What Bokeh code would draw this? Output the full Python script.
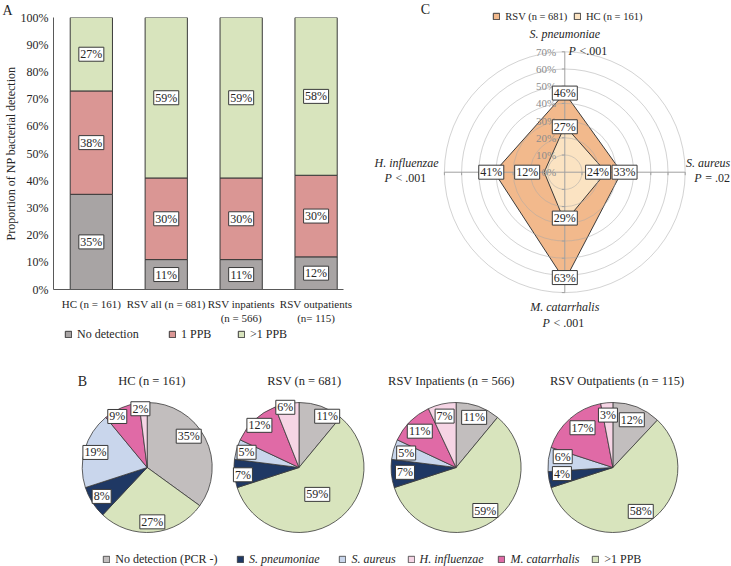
import math
from bokeh.plotting import figure
from bokeh.models import (Range1d, FixedTicker, PrintfTickFormatter, Legend,
                          LegendItem, ColumnDataSource)
from bokeh.layouts import row, column
from bokeh.core.properties import value
from bokeh.embed import file_html
from bokeh.resources import INLINE

# ---------------- data ----------------
# Panel A: stacked bars (percent of children)
bar_groups = ["HC (n = 161)", "RSV all (n = 681)", "RSV inpatients\n(n = 566)",
              "RSV outpatients\n(n= 115)"]
bar_no_detection = [35, 11, 11, 12]
bar_one_ppb = [38, 30, 30, 30]
bar_multi_ppb = [27, 59, 59, 58]
bar_series_names = ["No detection", "1 PPB", ">1 PPB"]
bar_y_ticks = [0, 10, 20, 30, 40, 50, 60, 70, 80, 90, 100]

# Panel C: radar (clockwise from top)
radar_axes = ["S. pneumoniae", "S. aureus", "M. catarrhalis", "H. influenzae"]
radar_pvalues = ["<.001", "= .02", "< .001", "< .001"]
radar_rsv = [46, 33, 63, 41]
radar_hc = [27, 24, 29, 12]
radar_series_names = ["RSV (n = 681)", "HC (n = 161)"]
radar_ticks = [0, 10, 20, 30, 40, 50, 60, 70]

# Panel B: pies (slices clockwise from 12 o'clock)
pie_titles = ["HC (n = 161)", "RSV (n = 681)", "RSV Inpatients (n = 566)",
              "RSV Outpatients (n = 115)"]
pie_categories = ["No detection (PCR -)", ">1 PPB", "S. pneumoniae", "S. aureus",
                  "M. catarrhalis", "H. influenzae"]
pie_hc = [35, 27, 8, 19, 9, 2]
pie_rsv = [11, 59, 7, 5, 12, 6]
pie_inpatients = [11, 59, 7, 5, 11, 7]
pie_outpatients = [12, 58, 4, 6, 17, 3]
pie_legend_order = ["No detection (PCR -)", "S. pneumoniae", "S. aureus",
                    "H. influenzae", "M. catarrhalis", ">1 PPB"]
species = {"S. pneumoniae", "S. aureus", "H. influenzae", "M. catarrhalis"}

# ---------------- style ----------------
FONT = "Liberation Serif"
TXT = "#262626"
EDGE = "#3a3a3a"
bar_colors = ["#a8a4a4", "#da9694", "#d8e4bd"]
pie_colors = {"No detection (PCR -)": "#c2bebe", ">1 PPB": "#d8e4bd",
              "S. pneumoniae": "#1f3864", "S. aureus": "#c9d6ec",
              "M. catarrhalis": "#e06aa6", "H. influenzae": "#f6d5e5"}
radar_colors = ["#f2b98c", "#fbe3c2"]


def clean(p):
    p.outline_line_color = None
    p.grid.visible = False
    p.background_fill_color = "white"
    p.border_fill_color = "white"


def boxed_labels(p, xs, ys, texts, size="12px"):
    src = ColumnDataSource(dict(x=xs, y=ys, text=texts,
                                w=[6 * len(t) + 7 for t in texts]))
    p.rect(x="x", y="y", width="w", height=14, width_units="screen",
           height_units="screen", fill_color="white", line_color=EDGE,
           line_width=1, source=src)
    p.text(x="x", y="y", text="text", text_align="center", text_baseline="middle",
           text_font=value(FONT), text_font_size=value(size), text_color=TXT,
           source=src)


def legend_kw(size="12px", italic=False):
    return dict(orientation="horizontal", padding=0, margin=0, spacing=0,
                glyph_width=8, glyph_height=8, label_standoff=5, label_height=8,
                label_width=10, background_fill_alpha=0, border_line_color=None,
                label_text_font=FONT, label_text_font_size=size,
                label_text_font_style="italic" if italic else "normal",
                label_text_color=TXT)


def add_legend(p, label, renderer, x, y, italic=False, size="12px", index=None):
    item = LegendItem(label=label, renderers=[renderer], index=index)
    p.add_layout(Legend(items=[item], location=(x, y), **legend_kw(size, italic)))


def txt(p, x, y, s, align="center", italic=False, size="12px", color=TXT,
        baseline="middle", x_offset=0):
    p.text(x=[x], y=[y], text=[s], text_align=align, text_baseline=baseline,
           text_font=value(FONT), text_font_size=value(size),
           text_font_style="italic" if italic else "normal", text_color=color,
           x_offset=x_offset)


def strip(w, h):
    p = figure(width=w, height=h, x_range=Range1d(0, 1), y_range=Range1d(0, 1),
               min_border=0, x_axis_location=None, y_axis_location=None,
               output_backend="svg", toolbar_location=None)
    clean(p)
    return p


# ---------------- Panel A ----------------
pA = figure(width=372, height=326, x_range=Range1d(-0.505, 3.366),
            y_range=Range1d(0, 100), output_backend="svg", toolbar_location=None,
            min_border_left=48, min_border_right=29, min_border_top=17,
            min_border_bottom=37)
clean(pA)

n = len(bar_groups)
xs = list(range(n))
bottoms = [0] * n
lx, ly, lt = [], [], []
for vals, color in zip([bar_no_detection, bar_one_ppb, bar_multi_ppb], bar_colors):
    tops = [b + v for b, v in zip(bottoms, vals)]
    pA.vbar(x=xs, bottom=bottoms, top=tops, width=0.564, fill_color=color,
            line_color=EDGE, line_width=1)
    for i in range(n):
        lx.append(xs[i])
        ly.append((bottoms[i] + tops[i]) / 2)
        lt.append(f"{vals[i]}%")
    bottoms = tops
boxed_labels(pA, lx, ly, lt)

for ax in (pA.yaxis[0], pA.xaxis[0]):
    ax.major_tick_out = 0
    ax.major_tick_in = 0
    ax.minor_tick_out = 0
    ax.minor_tick_in = 0
    ax.major_tick_line_color = None
    ax.minor_tick_line_color = None
    ax.major_label_text_font = FONT
    ax.major_label_text_color = TXT
    ax.axis_line_color = "#595959"
    ax.axis_label_text_font = FONT
    ax.axis_label_text_font_style = "normal"
    ax.axis_label_text_color = TXT

yax = pA.yaxis[0]
yax.ticker = FixedTicker(ticks=bar_y_ticks)
yax.formatter = PrintfTickFormatter(format="%d%%")
yax.major_label_standoff = 5
yax.major_label_text_font_size = "12px"
yax.axis_label = "Proportion of NP bacterial detection"
yax.axis_label_text_font_size = "12px"
yax.axis_label_standoff = 0

xax = pA.xaxis[0]
xax.ticker = FixedTicker(ticks=xs)
xax.major_label_overrides = {i: g for i, g in enumerate(bar_groups)}
xax.major_label_standoff = 8
xax.major_label_text_font_size = "11px"

pA.title.text = "A"
pA.title.align = "left"
pA.title.offset = -51
pA.title.standoff = 0
pA.title.text_font = FONT
pA.title.text_font_size = "14px"
pA.title.text_font_style = "normal"
pA.title.text_color = TXT

# legend strip under panel A (swatches styled like the bars)
legA = strip(372, 19)
for name, color, gx in zip(bar_series_names, bar_colors, [64, 168, 237]):
    sw = legA.quad(left=[2], right=[3], bottom=[2], top=[3], fill_color=color,
                   line_color=EDGE, line_width=1)
    add_legend(legA, name, sw, gx, 3.5)

# ---------------- Panel C ----------------
S = 1.72  # px per percent
cW, cH, ccx, ccy = 359, 345, 192.3, 171.7
pC = figure(width=cW, height=cH, x_range=Range1d(-ccx / S, (cW - ccx) / S),
            y_range=Range1d(-(cH - ccy) / S, ccy / S), min_border=0,
            x_axis_location=None, y_axis_location=None, output_backend="svg",
            toolbar_location=None)
clean(pC)

nA = len(radar_axes)
thetas = [2 * math.pi * i / nA for i in range(nA)]
radar_renderers = []
for vals, color in zip([radar_rsv, radar_hc], radar_colors):
    px_ = [v * math.sin(t) for v, t in zip(vals, thetas)]
    py_ = [v * math.cos(t) for v, t in zip(vals, thetas)]
    r = pC.patch(px_, py_, fill_color=color, line_color=EDGE, line_width=1)
    radar_renderers.append(r)

rings = [t for t in radar_ticks if t > 0]
pC.circle(x=[0] * len(rings), y=[0] * len(rings), radius=rings, fill_color=None,
          line_color="#a8a8a8", line_alpha=0.5, line_width=1)
rmax = max(radar_ticks)
pC.segment(x0=[-rmax, 0], y0=[0, -rmax], x1=[rmax, 0], y1=[0, rmax],
           line_color="#a0a0a0", line_width=1)
tk = 3 / S
hx = [s * t for t in rings for s in (-1, 1)]
pC.segment(x0=hx, y0=[0] * len(hx), x1=hx, y1=[-tk] * len(hx),
           line_color="#a0a0a0", line_width=1)
pC.segment(x0=[0] * len(hx), y0=hx, x1=[-tk] * len(hx), y1=hx,
           line_color="#a0a0a0", line_width=1)
pC.text(x=[-5.0] * len(radar_ticks), y=radar_ticks,
        text=[f"{t}%" for t in radar_ticks], text_align="right",
        text_baseline="middle", text_font=value(FONT), text_font_size=value("11px"),
        text_color="#8c8c8c")

rsv_x = [v * math.sin(t) for v, t in zip(radar_rsv, thetas)]
rsv_y = [v * math.cos(t) for v, t in zip(radar_rsv, thetas)]
rsv_nudge = [(0, 0), (3, 0), (0, 3), (-3, 0)]
hc_x = [v * math.sin(t) for v, t in zip(radar_hc, thetas)]
hc_y = [v * math.cos(t) for v, t in zip(radar_hc, thetas)]
hc_nudge = [(0, -1), (-8, 0), (0, 4), (-17, 0)]
boxed_labels(pC,
             [x + nx / S for x, (nx, _) in zip(rsv_x + hc_x, rsv_nudge + hc_nudge)],
             [y + ny / S for y, (_, ny) in zip(rsv_y + hc_y, rsv_nudge + hc_nudge)],
             [f"{v}%" for v in radar_rsv + radar_hc])

name_pos = [(0, 80.5, "center"), (70.5, 5.1, "left"), (0, -78.5, "center"),
            (-92.0, 5.1, "center")]
p_pos = [(2.15, 70.2), (75.3, -3.1), (-13.0, -87.8), (-104.8, -3.1)]
for name, pv, (nx, ny, al), (ppx, ppy) in zip(radar_axes, radar_pvalues, name_pos, p_pos):
    txt(pC, nx, ny, name, align=al, italic=True)
    txt(pC, ppx, ppy, "P", align="left", italic=True)
    txt(pC, ppx, ppy, pv, align="left", x_offset=11)

txt(pC, -81.0, 94.6, "C", size="14px")
for name, r, lxp in zip(radar_series_names, radar_renderers, [120.3, 201.0]):
    add_legend(pC, name, r, lxp, 323.3, size="10.5px")

# ---------------- Panel B ----------------
bW, bH = 731, 221
pB = figure(width=bW, height=bH, x_range=Range1d(0, bW), y_range=Range1d(0, bH),
            min_border=0, x_axis_location=None, y_axis_location=None,
            output_backend="svg", toolbar_location=None)
clean(pB)

PIE_R = 65
pie_series = [pie_hc, pie_rsv, pie_inpatients, pie_outpatients]
pie_cx = [146.7, 298.5, 455.6, 612.4]
pie_cy = 99
pie_title_dx = [4.6, 5.3, -4.8, 4.3]
pie_title_y = 185.3
pie_label_r = [[0.80, 0.84, 0.83, 0.83, 0.91, 0.91],
               [0.90, 0.50, 0.87, 0.84, 0.89, 0.95],
               [0.82, 0.80, 0.79, 0.80, 0.79, 0.81],
               [0.79, 0.80, 0.79, 0.79, 0.77, 0.81]]
pie_label_dang = [[-10, 0, 0, 0, -7, -3],
                  [9, 0, -2, 0, 0, -2],
                  [0, 0, 0, 0, 0, 0],
                  [0, 0, 4, 5, 4, 0]]

pie_renderers = []
for k, vals in enumerate(pie_series):
    cx = pie_cx[k]
    total = float(sum(vals))
    cum = 0.0
    sa, ea, lxs, lys = [], [], [], []
    for j, v in enumerate(vals):
        f0 = cum / total
        cum += v
        f1 = cum / total
        sa.append(math.pi / 2 - f1 * 2 * math.pi)
        ea.append(math.pi / 2 - f0 * 2 * math.pi)
        mid = (f0 + f1) / 2 * 2 * math.pi + math.radians(pie_label_dang[k][j])
        rr = pie_label_r[k][j] * PIE_R
        lxs.append(cx + rr * math.sin(mid))
        lys.append(pie_cy + rr * math.cos(mid))
    src = ColumnDataSource(dict(sa=sa, ea=ea,
                                color=[pie_colors[c] for c in pie_categories]))
    r = pB.wedge(x=cx, y=pie_cy, radius=PIE_R, start_angle="sa", end_angle="ea",
                 direction="anticlock", fill_color="color", line_color=EDGE,
                 line_width=0.8, source=src)
    pie_renderers.append(r)
    boxed_labels(pB, lxs, lys, [f"{v}%" for v in vals])
    txt(pB, cx + pie_title_dx[k], pie_title_y, pie_titles[k], size="12.5px")
txt(pB, 82, pie_title_y, "B", size="14px")

for name, xpos in zip(pie_legend_order, [102.3, 236.0, 338.4, 406.6, 497.4, 591.2]):
    add_legend(pB, name, pie_renderers[0], xpos, -0.5, italic=name in species,
               index=pie_categories.index(name))

layout = column(row(column(column(pA), column(legA)), column(pC)), pB)
open("out.html", "w").write(file_html(layout, INLINE))
